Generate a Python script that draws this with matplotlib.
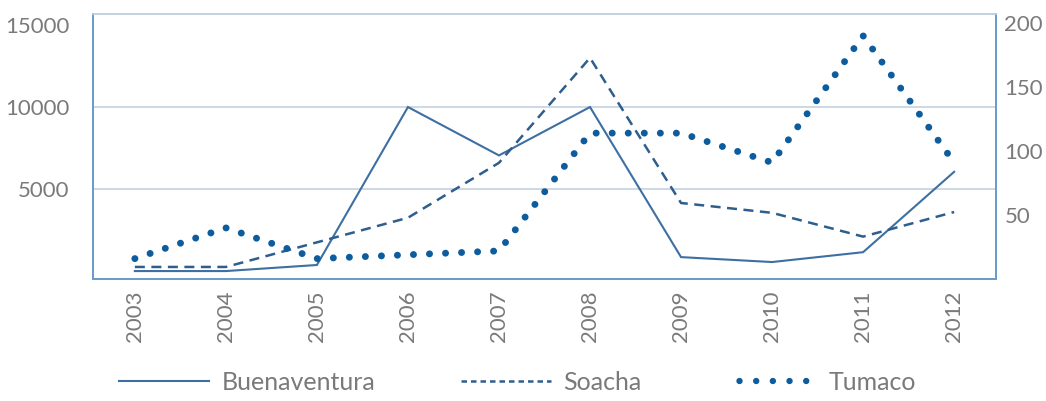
import matplotlib
matplotlib.use("Agg")
import matplotlib.pyplot as plt
from matplotlib.lines import Line2D

plt.rcParams["font.family"] = ["Lato", "DejaVu Sans"]

years = ["2003", "2004", "2005", "2006", "2007", "2008", "2009", "2010", "2011", "2012"]
buenaventura = [0, 0, 370, 10000, 7050, 10000, 850, 550, 1150, 6050]
soacha = [250, 250, 1750, 3250, 6600, 13000, 4150, 3550, 2100, 3600]
tumaco = [16, 40, 16, 19, 22, 114, 114, 91, 190, 91]

left_ticks = [5000, 10000, 15000]
right_ticks = [50, 100, 150, 200]

C_SOLID = "#3d6fa3"
C_DASH = "#2e5e8e"
C_DOT = "#0d5c9e"
C_SPINE = "#6b9ccc"
C_GRID = "#c3d2df"
C_TEXT = "#7a7a7a"

fig = plt.figure(figsize=(10.46, 4.01), dpi=100)
ax = fig.add_axes([0.0889, 0.304, 0.8633, 0.661])
ax2 = ax.twinx()

x = list(range(len(years)))
ax.plot(x, buenaventura, color=C_SOLID, lw=1.5, solid_joinstyle="miter")
ax.plot(x, soacha, color=C_DASH, lw=1.8, linestyle=(0, (4.0, 2.6)))
ax2.plot(x, tumaco, color=C_DOT, lw=5.0, linestyle=(0, (0.01, 2.3)),
         dash_capstyle="round")

ax.set_xlim(-0.46, len(years) - 1 + 0.46)
ax.set_ylim(-490, 15670)
ax2.set_ylim(0, 207)

for v in [5000, 10000]:
    ax.axhline(v, color=C_GRID, lw=1.2, zorder=0)

ax.set_xticks(x)
ax.set_xticklabels(years, rotation=90, fontsize=16, color=C_TEXT)
ax.set_yticks(left_ticks)
ax.set_yticklabels([str(t) for t in left_ticks], fontsize=16, color=C_TEXT)
ax2.set_yticks(right_ticks)
ax2.set_yticklabels([str(t) for t in right_ticks], fontsize=16, color=C_TEXT)
ax.tick_params(axis="y", length=0, pad=17)
ax.tick_params(axis="x", length=0, pad=8)
ax2.tick_params(axis="y", length=0, pad=6)

for a in (ax, ax2):
    for s in ["left", "right", "bottom"]:
        a.spines[s].set_color(C_SPINE)
        a.spines[s].set_linewidth(1.3)
    a.spines["top"].set_color(C_GRID)
    a.spines["top"].set_linewidth(1.2)

handles = [
    Line2D([], [], color=C_SOLID, lw=1.5),
    Line2D([], [], color=C_DASH, lw=1.8, linestyle=(0, (2.2, 1.6))),
    Line2D([], [], color=C_DOT, lw=4.6, linestyle=(0.5, (0.01, 2.6)), dash_capstyle="round"),
]
leg = fig.legend(handles, ["Buenaventura", "Soacha", "Tumaco"], loc="center",
                 bbox_to_anchor=(0.495, 0.047), ncol=3, frameon=False,
                 fontsize=18, handlelength=3.6, columnspacing=3.4, handletextpad=0.5)
for t in leg.get_texts():
    t.set_color(C_TEXT)

fig.savefig("out.png", dpi=100)
